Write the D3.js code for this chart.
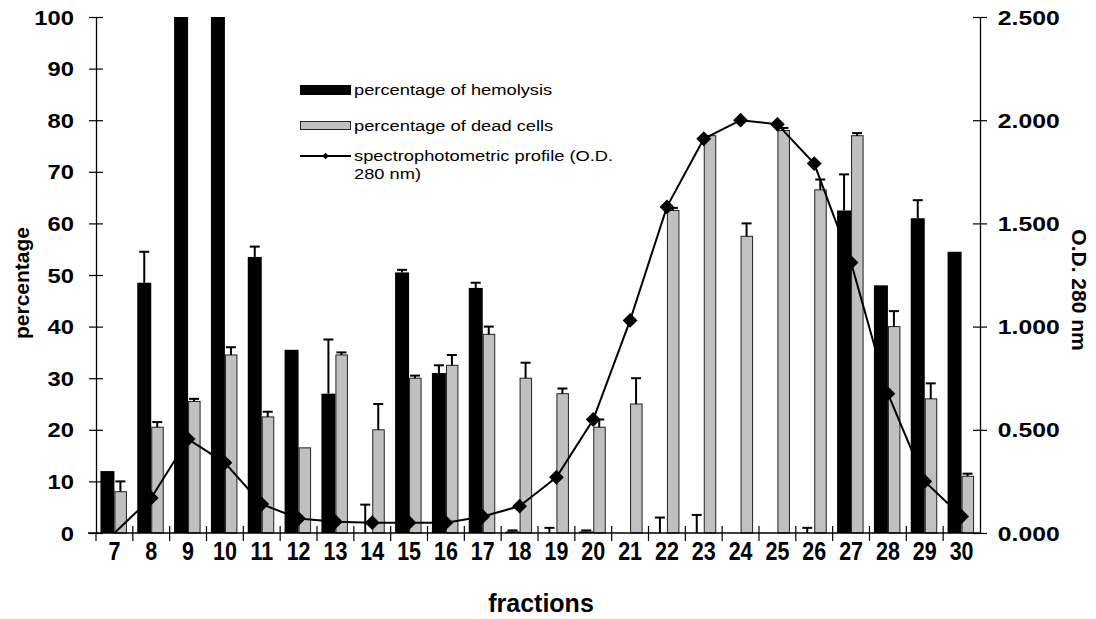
<!DOCTYPE html>
<html>
<head>
<meta charset="utf-8">
<script src="https://cdn.jsdelivr.net/npm/d3@7"></script>
<style>
  html, body { margin: 0; padding: 0; background: #fff; }
  svg { display: block; font-family: "Liberation Sans", Arial, sans-serif; }
</style>
</head>
<body>
<svg id="chart" width="1096" height="619"></svg>
<script>
// ---- data ----
const fractions = [7,8,9,10,11,12,13,14,15,16,17,18,19,20,21,22,23,24,25,26,27,28,29,30];
const hemolysis = [12,48.5,100,100,53.5,35.5,27,0,50.5,31,47.5,0.3,0,0.3,0,0,0,0,0,0,62.5,48,61,54.5];
const hemolysisErrTop = [12,54.5,100,100,55.5,35.5,37.5,5.5,51,32.5,48.5,0.5,1,0.5,0,3,3.5,0,0,1,69.5,48,64.5,54.5];
const deadCells = [8,20.5,25.5,34.5,22.5,16.5,34.5,20,30,32.5,38.5,30,27,20.5,25,62.5,77,57.5,78,66.5,77,40,26,11];
const deadCellsErrTop = [10,21.5,26,36,23.5,16.5,35,25,30.5,34.5,40,33,28,22,30,63,77,60,78.5,68.5,77.5,43,29,11.5];
const od280 = [0,0.17,0.455,0.34,0.14,0.07,0.055,0.05,0.05,0.05,0.08,0.13,0.27,0.55,1.03,1.58,1.91,2.0,1.98,1.79,1.31,0.675,0.25,0.08];
const leftTicks = [0,10,20,30,40,50,60,70,80,90,100];
const rightTicks = [0,0.5,1,1.5,2,2.5];
const legendLabels = ["percentage of hemolysis","percentage of dead cells","spectrophotometric profile (O.D.","280 nm)"];

// ---- layout ----
const svg = d3.select("#chart");
const pL = 96, pR = 980, pT = 17, pB = 533;

const x = d3.scaleBand().domain(fractions).range([pL, pR]).padding(0);
const yL = d3.scaleLinear().domain([0,100]).range([pB, pT]);
const yR = d3.scaleLinear().domain([0,2.5]).range([pB, pT]);
const cx = d => x(d) + x.bandwidth()/2;

// ---- bars ----
const rows = fractions.map((f,i) => ({f, h: hemolysis[i], he: hemolysisErrTop[i], d: deadCells[i], de: deadCellsErrTop[i], od: od280[i]}));

const gBars = svg.append("g");
gBars.selectAll("rect.hemo").data(rows).join("rect")
  .attr("class","hemo")
  .attr("x", d => cx(d.f) - 14)
  .attr("width", 14)
  .attr("y", d => yL(d.h))
  .attr("height", d => yL(0) - yL(d.h))
  .attr("fill", "#000");

gBars.selectAll("rect.dead").data(rows).join("rect")
  .attr("class","dead")
  .attr("x", d => cx(d.f) + 0.5)
  .attr("width", 11.5)
  .attr("y", d => yL(d.d))
  .attr("height", d => yL(0) - yL(d.d))
  .attr("fill", "#c0c0c0")
  .attr("stroke", "#222")
  .attr("stroke-width", 1);

// ---- error bars ----
const gErr = svg.append("g").attr("stroke","#000").attr("stroke-width",2);
rows.forEach(d => {
  if (d.he > d.h) {
    const xc = cx(d.f) - 7;
    gErr.append("line").attr("x1",xc).attr("x2",xc).attr("y1",yL(d.h)).attr("y2",yL(d.he));
    gErr.append("line").attr("x1",xc-5).attr("x2",xc+5).attr("y1",yL(d.he)).attr("y2",yL(d.he));
  }
  if (d.de > d.d) {
    const xc = cx(d.f) + 6;
    gErr.append("line").attr("x1",xc).attr("x2",xc).attr("y1",yL(d.d)).attr("y2",yL(d.de));
    gErr.append("line").attr("x1",xc-5).attr("x2",xc+5).attr("y1",yL(d.de)).attr("y2",yL(d.de));
  }
});

// ---- axes ----
const axL = svg.append("g").attr("transform",`translate(${pL},0)`)
  .call(d3.axisLeft(yL).tickValues(leftTicks).tickSize(0).tickFormat(d3.format("d")));
axL.select(".domain").attr("stroke","#000").attr("stroke-width",1.3);
axL.selectAll(".tick line").attr("x1",-7).attr("x2",7).attr("stroke","#000").attr("stroke-width",1.2);
axL.selectAll(".tick text").attr("x",-18).attr("dy","0.36em")
  .attr("transform","scale(1.22,1)")
  .style("font-size","19.5px").style("font-weight","bold").attr("fill","#000")
  .style("font-family","'Liberation Sans', Arial, sans-serif");

const axR = svg.append("g").attr("transform",`translate(${pR},0)`)
  .call(d3.axisRight(yR).tickValues(rightTicks).tickSize(0).tickFormat(d3.format(".3f")));
axR.select(".domain").attr("stroke","#000").attr("stroke-width",1.3);
axR.selectAll(".tick line").attr("x1",-7).attr("x2",7).attr("stroke","#000").attr("stroke-width",1.2);
axR.selectAll(".tick text").attr("x",14).attr("dy","0.36em")
  .attr("transform","scale(1.27,1)")
  .style("font-size","19.5px").style("font-weight","bold").attr("fill","#000")
  .style("font-family","'Liberation Sans', Arial, sans-serif");

const axB = svg.append("g").attr("transform",`translate(0,${pB})`)
  .call(d3.axisBottom(x).tickSize(0).tickPadding(0));
axB.select(".domain").remove();
axB.append("line").attr("x1",pL-8).attr("x2",pR).attr("y1",0).attr("y2",0).attr("stroke","#000").attr("stroke-width",1.3);
axB.selectAll(".tick text")
  .attr("y", 0).attr("dy", null)
  .attr("transform","translate(0,27) scale(0.86,1)")
  .style("font-size","25px").style("font-weight","bold").attr("fill","#000")
  .style("font-family","'Liberation Sans', Arial, sans-serif");
// category boundary ticks
axB.selectAll("line.bt").data(fractions.slice(1)).join("line")
  .attr("class","bt")
  .attr("x1", d => x(d)).attr("x2", d => x(d))
  .attr("y1",-7).attr("y2",8).attr("stroke","#000").attr("stroke-width",1.2);
axB.append("line").attr("x1",pL).attr("x2",pL).attr("y1",0).attr("y2",8).attr("stroke","#000").attr("stroke-width",1.2);

// ---- line ----
const gLine = svg.append("g");
gLine.append("path").datum(rows)
  .attr("d", d3.line().x(d => cx(d.f)).y(d => yR(d.od)))
  .attr("fill","none").attr("stroke","#000").attr("stroke-width",2);
gLine.selectAll("path.mk").data(rows.filter(d => d.od > 0)).join("path")
  .attr("class","mk")
  .attr("d", d3.symbol(d3.symbolSquare).size(110))
  .attr("transform", d => `translate(${cx(d.f)},${yR(d.od)}) rotate(45)`)
  .attr("fill","#000");

// ---- axis titles ----
svg.append("text").attr("transform","translate(29,283) rotate(-90)")
  .attr("text-anchor","middle").style("font-size","21px").style("font-weight","bold").text("percentage");
svg.append("text").attr("transform","translate(1072,290) rotate(90)")
  .attr("text-anchor","middle").style("font-size","21px").style("font-weight","bold").text("O.D. 280 nm");
svg.append("text").attr("x",541).attr("y",612)
  .attr("text-anchor","middle").style("font-size","25px").style("font-weight","bold").text("fractions");

// ---- legend ----
const lg = svg.append("g");
lg.append("rect").attr("x",300).attr("y",85).attr("width",51).attr("height",10).attr("fill","#000");
lg.append("rect").attr("x",300.5).attr("y",121.5).attr("width",50).attr("height",8).attr("fill","#c0c0c0").attr("stroke","#222").attr("stroke-width",1);
lg.append("line").attr("x1",300).attr("x2",351).attr("y1",156).attr("y2",156).attr("stroke","#000").attr("stroke-width",2);
lg.append("path").attr("d", d3.symbol(d3.symbolSquare).size(22)).attr("transform","translate(325.5,156) rotate(45)").attr("fill","#000");
const legY = [90, 126, 156, 174];
legendLabels.forEach((t,i) => {
  lg.append("text").attr("transform",`translate(354,${legY[i]}) scale(1.22,1)`)
    .attr("dy","0.35em").style("font-size","15px").attr("fill","#000").text(t);
});
</script>
</body>
</html>
